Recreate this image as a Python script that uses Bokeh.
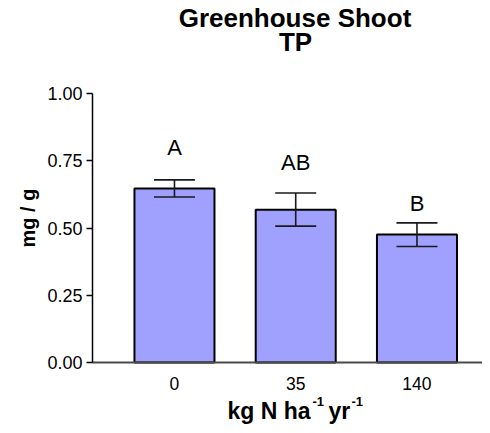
import math
from bokeh.plotting import figure
from bokeh.models import ColumnDataSource, Range1d, FixedTicker, Whisker, Label
from bokeh.core.properties import value
from bokeh.embed import file_html
from bokeh.resources import INLINE

categories = ["0", "35", "140"]
means = [0.647, 0.568, 0.476]
err_upper = [0.679, 0.630, 0.519]
err_lower = [0.615, 0.507, 0.431]
letters = ["A", "AB", "B"]
letter_y = [0.801, 0.744, 0.590]
y_ticks = [0.0, 0.25, 0.5, 0.75, 1.0]
y_tick_labels = ["0.00", "0.25", "0.50", "0.75", "1.00"]
title_lines = ["Greenhouse Shoot", "TP"]
y_label = "mg / g"
x_label_parts = ["kg N ha", "-1", "yr", "-1"]

FONT = "Liberation Sans"
W, H = 482, 425
AX_L, AX_T, AX_B = 92, 93, 362      # px of y axis line, y=1 and y=0
X0 = -0.676                          # data x at the y axis
STEP = 121.25                        # px per category


def px2x(px):
    return X0 + (px - AX_L) / STEP


def py2y(py):
    return (AX_B - py) / (AX_B - AX_T)


xs = list(range(len(categories)))
src = ColumnDataSource(dict(x=xs, top=means, up=err_upper, lo=err_lower,
                            lab=letters, ly=letter_y))

# the frame covers the whole canvas; axes are pinned inside it
p = figure(width=W, height=H, output_backend="svg", toolbar_location=None,
           x_range=Range1d(px2x(0), px2x(W)),
           y_range=Range1d(py2y(H), py2y(0)),
           min_border_left=0, min_border_right=0, min_border_top=0,
           min_border_bottom=0)
p.outline_line_color = None
p.grid.visible = False

p.vbar(x="x", top="top", width=0.66, source=src, fill_color="#A0A0FF",
       line_color="black", line_width=2)
w = Whisker(base="x", upper="up", lower="lo", source=src, line_color="#1a1a1a",
            line_width=1.6, level="overlay")
for head in (w.upper_head, w.lower_head):
    head.size = 41
    head.line_width = 1.6
    head.line_color = "#1a1a1a"
p.add_layout(w)

p.text(x="x", y="ly", text="lab", source=src, text_align="center",
       text_baseline="middle", text_font_size="22px",
       text_font=value(FONT), text_color="black")

# y axis
p.yaxis.fixed_location = X0
p.yaxis.bounds = (0, 1)
p.yaxis.ticker = FixedTicker(ticks=y_ticks)
p.yaxis.major_label_overrides = dict(zip(y_ticks, y_tick_labels))
p.yaxis.minor_tick_line_color = None
p.yaxis.major_tick_in = 0
p.yaxis.major_tick_out = 6
p.yaxis.major_tick_line_width = 1.5
p.yaxis.major_tick_line_color = "black"
p.yaxis.axis_line_width = 1.5
p.yaxis.axis_line_color = "black"
p.yaxis.major_label_standoff = 4
p.yaxis.major_label_text_font = FONT
p.yaxis.major_label_text_font_size = "18px"
p.yaxis.major_label_text_color = "black"

# x axis
p.xaxis.fixed_location = 0
p.xaxis.bounds = (X0, px2x(W))
p.xaxis.ticker = FixedTicker(ticks=xs)
p.xaxis.major_label_overrides = {i: c for i, c in enumerate(categories)}
p.xaxis.major_tick_line_color = None
p.xaxis.minor_tick_line_color = None
p.xaxis.axis_line_color = "#4a4a4a"
p.xaxis.axis_line_width = 2
p.xaxis.major_label_standoff = 8
p.xaxis.major_label_text_font = FONT
p.xaxis.major_label_text_font_size = "17.5px"
p.xaxis.major_label_text_color = "black"


def add_text(text, px, py, size, align="left", angle=0.0, baseline="alphabetic"):
    p.add_layout(Label(x=px2x(px), y=py2y(py), text=text, angle=angle,
                       text_align=align, text_baseline=baseline,
                       text_font=FONT, text_font_size=size,
                       text_font_style="bold", text_color="black"))


# title
add_text(title_lines[0], 294.5, 17.5, "26px", align="center")
add_text(title_lines[1], 295, 41, "26px", align="center")

# y axis title
add_text(y_label, 27, 217.5, "20px", align="center", angle=math.pi / 2,
         baseline="middle")

# x axis title with superscripts
for txt, (px, py, fs) in zip(x_label_parts,
                             [(227, 410.5, "23px"), (312, 400.5, "13px"),
                              (328, 410.5, "23px"), (351, 400.5, "13px")]):
    add_text(txt, px, py, fs)

open("out.html", "w").write(file_html(p, INLINE))
